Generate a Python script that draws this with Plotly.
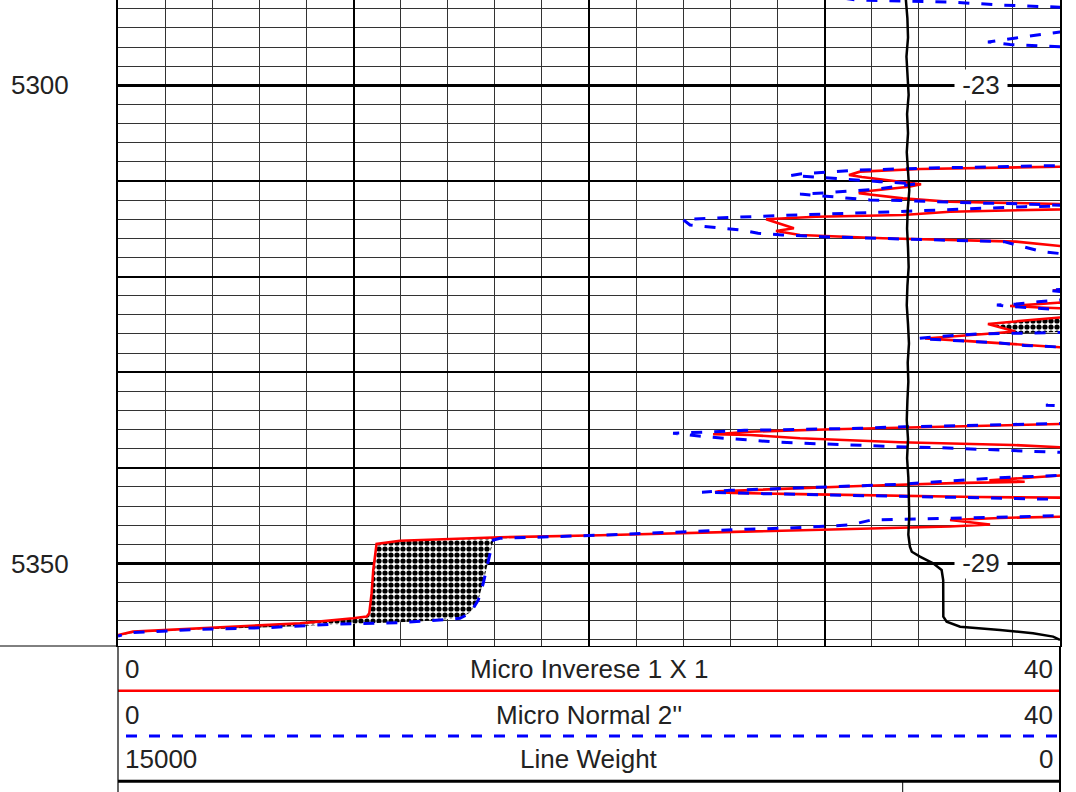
import numpy as np
import plotly.graph_objects as go

# ---------------- data ----------------
# Micro Inverse 1 X 1 (red), pairs of (depth, value); values > 40 are off-scale
micro_inverse = [
    (5289.0, 60), (5300.0, 60), (5308.40, 42),
    (5308.51, 40.0), (5308.75, 34.06), (5309.03, 31.51), (5309.38, 31.04), (5309.59, 31.59),
    (5310.08, 33.21), (5310.35, 34.10), (5310.60, 33.59), (5311.12, 31.59), (5311.29, 31.46),
    (5311.47, 32.02), (5311.82, 33.33), (5312.17, 35.33), (5312.41, 40.0), (5312.67, 42.0),
    (5312.97, 40.0), (5313.22, 35.33), (5313.56, 33.33), (5313.74, 29.64), (5314.01, 27.52),
    (5314.95, 28.70), (5315.23, 27.94), (5315.65, 28.96), (5316.00, 32.48), (5316.35, 38.13),
    (5316.80, 40.0), (5317.00, 42.0),
    (5319.00, 60), (5321.30, 40.4), (5321.45, 39.7), (5321.60, 40.4), (5322.50, 42.0),
    (5322.73, 39.9), (5322.92, 38.9), (5323.08, 37.88), (5323.23, 39.15), (5323.34, 40.0), (5323.50, 42.0),
    (5324.10, 42.0), (5324.28, 40.0), (5324.60, 38.5), (5324.96, 36.94), (5325.40, 37.6),
    (5325.75, 38.1), (5326.00, 36.8), (5326.25, 35.2), (5326.47, 34.27), (5326.70, 35.8),
    (5327.00, 37.9), (5327.20, 38.9), (5327.39, 40.0), (5327.60, 42.0),
    (5331.00, 60), (5335.25, 42.5), (5335.41, 40.0), (5335.70, 34.61), (5335.97, 30.36),
    (5336.22, 26.84), (5336.49, 25.27), (5336.56, 26.84), (5336.91, 28.96), (5337.33, 33.21),
    (5337.61, 38.0), (5337.85, 40.0), (5338.05, 42.0),
    (5339.50, 60), (5340.60, 42.0), (5340.80, 40.0), (5341.06, 38.5), (5341.30, 37.0),
    (5341.45, 38.5), (5341.60, 35.5), (5341.90, 31.5), (5342.20, 28.0), (5342.45, 25.5),
    (5342.52, 25.35), (5342.62, 26.1), (5342.75, 28.96), (5342.95, 33.21), (5343.05, 36.5),
    (5343.12, 40.0), (5343.30, 42.0),
    (5344.00, 60), (5344.90, 42.5), (5345.11, 40.0), (5345.24, 37.45), (5345.45, 35.33),
    (5345.92, 37.03), (5346.13, 35.33), (5346.32, 32.36), (5346.57, 28.96), (5346.78, 24.71),
    (5347.05, 20.47), (5347.26, 16.22), (5347.44, 14.10), (5347.62, 11.97), (5347.96, 10.98),
    (5350.68, 10.84), (5353.11, 10.77), (5355.21, 10.67), (5355.56, 10.56), (5355.73, 9.98),
    (5356.26, 7.73), (5356.61, 4.88), (5356.95, 2.08), (5357.13, 0.64), (5357.48, 0.0),
]

# Micro Normal 2'' (blue dashed)
micro_normal = [
    (5289.0, 25.0), (5290.2, 29.0), (5291.08, 31.34), (5291.29, 35.33), (5291.60, 37.45),
    (5291.81, 40.0), (5292.0, 42.0),
    (5293.2, 55.0), (5294.2, 42.0), (5294.43, 40.0), (5294.85, 38.68), (5295.16, 37.88),
    (5295.47, 36.94), (5295.73, 37.88), (5295.99, 40.0), (5296.2, 42.0),
    (5302.0, 60.0), (5308.30, 43.0), (5308.39, 40.0), (5308.49, 37.03), (5308.65, 34.48),
    (5308.86, 31.51), (5309.07, 29.94), (5309.27, 28.96), (5309.43, 28.58), (5309.59, 29.38),
    (5309.80, 30.79), (5310.08, 32.36), (5310.25, 33.6), (5310.30, 33.9), (5310.84, 32.3),
    (5311.10, 31.0), (5311.25, 30.0), (5311.37, 28.96), (5311.57, 29.81), (5311.99, 31.93),
    (5312.05, 33.21), (5312.17, 34.5), (5312.31, 36.5), (5312.41, 38.5), (5312.52, 40.0),
    (5312.60, 40.6), (5312.69, 38.5), (5312.85, 37.0), (5313.25, 32.70), (5313.63, 27.90),
    (5314.03, 23.99), (5314.61, 24.29), (5314.85, 25.27), (5315.13, 26.41), (5315.47, 27.18),
    (5315.65, 28.20), (5315.83, 29.89), (5316.00, 32.02), (5316.18, 34.9), (5316.35, 37.62),
    (5316.88, 38.39), (5317.40, 39.24), (5317.59, 40.0), (5317.80, 42.0),
    (5320.0, 55.0), (5321.25, 40.5), (5321.45, 39.5), (5321.65, 40.5), (5322.20, 42.0),
    (5322.44, 40.0), (5322.63, 39.07), (5322.87, 38.13), (5322.97, 37.32), (5323.10, 37.7),
    (5323.40, 39.6), (5323.60, 42.0),
    (5325.0, 48.0), (5325.70, 42.0), (5325.85, 40.0), (5326.00, 36.5), (5326.25, 34.9),
    (5326.47, 34.01), (5326.63, 35.03), (5326.95, 37.45), (5327.20, 38.5), (5327.42, 40.0),
    (5327.60, 42.0),
    (5330.5, 55.0), (5333.20, 42.0), (5333.45, 39.4), (5333.70, 42.0), (5334.5, 55.0),
    (5335.25, 42.0), (5335.41, 40.0), (5335.45, 38.7), (5335.58, 36.0), (5335.70, 33.4),
    (5335.86, 31.5), (5335.97, 29.2), (5336.08, 26.6), (5336.25, 25.0), (5336.39, 23.57),
    (5336.80, 25.2), (5336.98, 26.1), (5337.16, 27.1), (5337.33, 28.1), (5337.68, 31.9),
    (5337.79, 32.9), (5337.89, 34.8), (5338.21, 37.75), (5338.34, 38.7), (5338.48, 40.0),
    (5338.70, 42.0),
    (5339.8, 55.0), (5340.60, 42.0), (5340.76, 40.0), (5341.06, 37.2), (5341.72, 33.2),
    (5341.97, 30.4), (5342.14, 28.0), (5342.35, 26.0), (5342.56, 24.8), (5342.66, 26.4),
    (5342.73, 27.3), (5342.80, 28.6), (5342.84, 30.0), (5342.91, 31.8), (5342.97, 33.6),
    (5343.03, 35.5), (5343.08, 37.0), (5343.11, 38.5), (5343.14, 40.0), (5343.30, 42.0),
    (5344.0, 55.0), (5344.80, 42.0), (5345.00, 40.0), (5345.17, 37.2), (5345.27, 35.5),
    (5345.38, 33.0), (5345.45, 32.0), (5345.97, 31.1), (5346.08, 30.3), (5346.22, 29.5),
    (5346.29, 28.5), (5346.42, 26.7), (5346.63, 24.6), (5346.78, 23.7), (5346.84, 22.7),
    (5347.02, 20.7), (5347.37, 16.22), (5347.54, 15.94), (5348.93, 15.80), (5350.33, 15.66),
    (5352.07, 15.51), (5353.82, 15.30), (5355.21, 14.95), (5355.73, 14.52), (5355.84, 14.10),
    (5356.19, 11.97), (5356.36, 9.13), (5356.71, 6.33), (5356.88, 3.48), (5357.23, 0.64),
    (5357.58, 0.0),
]

# Line Weight (black), scale 15000 -> 0
lw_depth = [5289, 5291, 5293, 5295, 5297, 5299, 5301, 5303, 5305, 5307, 5309, 5311, 5313,
            5315, 5317, 5319, 5321, 5323, 5325, 5327, 5329, 5331, 5333, 5335, 5337, 5339,
            5341, 5343, 5345, 5347, 5348.24, 5348.77, 5349.29, 5349.98, 5350.68, 5351.73,
            5355.56, 5356.09, 5356.61, 5356.95, 5357.30, 5357.65, 5358.0]
lw_value = [2440, 2455, 2430, 2420, 2445, 2425, 2410, 2435, 2420, 2440, 2415, 2400, 2425,
            2435, 2420, 2410, 2430, 2440, 2420, 2405, 2425, 2415, 2430, 2440, 2420, 2435,
            2415, 2410, 2400, 2415, 2390, 2360, 2230, 2020, 1885, 1860,
            1858, 1805, 1590, 955, 430, 110, 0]

depth_ticks = [5300, 5350]
subsea_depths = [5300, 5350]
subsea_labels = ["-23", "-29"]
res_range = [0, 40]
lw_range = [15000, 0]
depth_range = [5358.63, 5291.08]
header_rows = [
    ("0", "Micro Inverese 1 X 1", "40"),
    ("0", "Micro Normal 2''", "40"),
    ("15000", "Line Weight", "0"),
]

# ---------------- figure ----------------
FONT = "Liberation Sans, Arial, sans-serif"
TXT = "#222222"
FS = 26
inv_d, inv_v = map(np.array, zip(*micro_inverse))
nor_d, nor_v = map(np.array, zip(*micro_normal))

# fill where normal > inverse (positive separation)
grid = np.union1d(np.union1d(inv_d, nor_d), np.arange(inv_d.min(), nor_d.max(), 0.01))
r_i = np.interp(grid, inv_d, inv_v)
b_i = np.interp(grid, nor_d, nor_v)
right = np.maximum(r_i, b_i)
fill_x = np.concatenate([r_i, right[::-1]])
fill_y = np.concatenate([grid, grid[::-1]])

fig = go.Figure()
fig.add_trace(go.Scatter(
    x=fill_x, y=fill_y, mode="lines", fill="toself", line=dict(width=0),
    fillcolor="white",
    fillpattern=dict(shape=".", fgcolor="#000000", fgopacity=1, bgcolor="white",
                     size=6, solidity=0.6, fillmode="replace"),
    hoverinfo="skip", showlegend=False))
fig.add_trace(go.Scatter(x=inv_v, y=inv_d, mode="lines",
                         line=dict(color="#ff0000", width=2.6), showlegend=False))
fig.add_trace(go.Scatter(x=nor_v, y=nor_d, mode="lines",
                         line=dict(color="#0000ff", width=3, dash="11px,12px"), showlegend=False))
fig.add_trace(go.Scatter(x=lw_value, y=lw_depth, mode="lines", xaxis="x2", yaxis="y2",
                         line=dict(color="black", width=2.5), showlegend=False))

W, H = 1076, 792
ML, MR, MT, MB = 118, 16, 0, 146
PW, PH = W - ML - MR, H - MT - MB


def py(pix):  # pixel y -> paper y
    return (PH - pix) / PH


def px(pix):  # pixel x -> paper x
    return (pix - ML) / PW


fig.update_layout(
    width=W, height=H, margin=dict(l=ML, r=MR, t=MT, b=MB, pad=0),
    paper_bgcolor="white", plot_bgcolor="white",
    font=dict(family=FONT, size=FS, color=TXT),
    xaxis=dict(range=res_range, tick0=0, dtick=20, showgrid=True, gridcolor="black", gridwidth=2,
               minor=dict(dtick=2, tick0=0, showgrid=True, gridcolor="#333333", gridwidth=1),
               showticklabels=False, ticks="", zeroline=False,
               showline=True, linecolor="black", linewidth=1),
    xaxis2=dict(range=lw_range, overlaying="x", anchor="y2", tick0=0, dtick=3750,
                showgrid=True, gridcolor="black", gridwidth=1.5,
                showticklabels=False, ticks="", zeroline=False, showline=False),
    yaxis=dict(range=depth_range, tickvals=depth_ticks, showgrid=True, gridcolor="black", gridwidth=2.5,
               minor=dict(dtick=2, tick0=5300, showgrid=True, gridcolor="#333333", gridwidth=1),
               ticks="", zeroline=False, ticklabelstandoff=42,
               tickfont=dict(family=FONT, size=FS, color=TXT),
               showline=True, mirror=True, linecolor="black", linewidth=2),
    yaxis2=dict(range=depth_range, overlaying="y", anchor="x2", tick0=5300, dtick=10,
                showgrid=True, gridcolor="black", gridwidth=1.6,
                showticklabels=False, ticks="", zeroline=False, showline=False),
)

# subsea depth labels inside track
for d, lab in zip(subsea_depths, subsea_labels):
    fig.add_annotation(x=px(981), xref="paper", y=d, yref="y", text=lab, showarrow=False,
                       xanchor="center", yanchor="middle",
                       bgcolor="white", width=52, height=30, borderpad=0,
                       font=dict(family=FONT, size=FS, color=TXT))

# header
row_y = [669, 715, 759]
for (lft, mid, rgt), yy in zip(header_rows, row_y):
    fig.add_annotation(x=px(123), y=py(yy), xref="paper", yref="paper", text=lft,
                       xanchor="left", yanchor="middle", showarrow=False,
                       font=dict(family=FONT, size=FS, color=TXT))
    fig.add_annotation(x=0.5, y=py(yy), xref="paper", yref="paper", text=mid,
                       xanchor="center", yanchor="middle", showarrow=False,
                       font=dict(family=FONT, size=FS, color=TXT))
    fig.add_annotation(x=px(1055), y=py(yy), xref="paper", yref="paper", text=rgt,
                       xanchor="right", yanchor="middle", showarrow=False,
                       font=dict(family=FONT, size=FS, color=TXT))

shapes = [
    dict(type="line", xref="paper", yref="paper", x0=px(0), x1=0, y0=0, y1=0,
         line=dict(color="black", width=1)),
    dict(type="line", xref="paper", yref="paper", x0=0, x1=1, y0=py(690.7), y1=py(690.7),
         line=dict(color="#ff0000", width=2.5)),
    dict(type="line", xref="paper", yref="paper", x0=px(126), x1=1, y0=py(736), y1=py(736),
         line=dict(color="#0000ff", width=3, dash="11px,12px")),
    dict(type="line", xref="paper", yref="paper", x0=0, x1=1, y0=py(781.3), y1=py(781.3),
         line=dict(color="black", width=3)),
    dict(type="line", xref="paper", yref="paper", x0=0, x1=0, y0=0, y1=py(792),
         line=dict(color="black", width=1.2)),
    dict(type="line", xref="paper", yref="paper", x0=1, x1=1, y0=0, y1=py(792),
         line=dict(color="black", width=2)),
    dict(type="line", xref="paper", yref="paper", x0=px(902.7), x1=px(902.7), y0=py(781.3), y1=py(792),
         line=dict(color="black", width=1)),
]
fig.update_layout(shapes=shapes)

fig.write_html("out.html", config={"displayModeBar": False},
               post_script="document.body.style.margin='0';document.body.style.padding='0';")
